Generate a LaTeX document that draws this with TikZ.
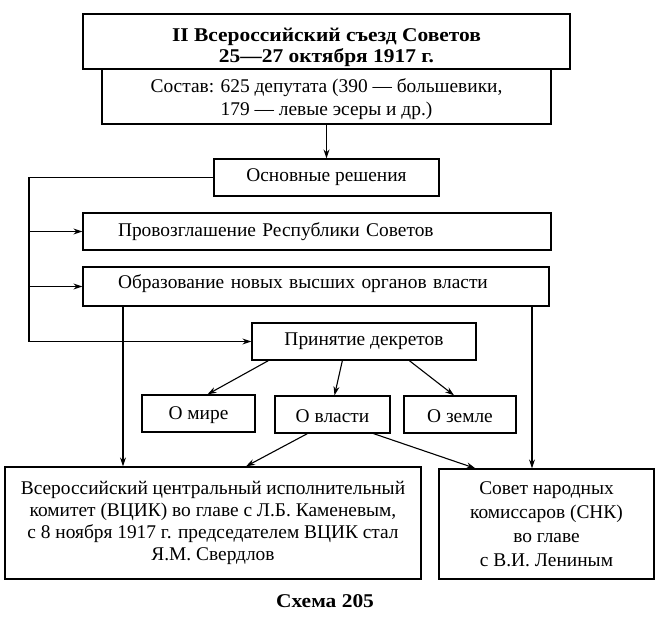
\documentclass[tikz,border=0pt]{standalone}
\usepackage{fontspec}
\setmainfont{Liberation Serif}
\newfontfamily\titlefont{Liberation Serif}[FakeStretch=1.1]
\usetikzlibrary{arrows.meta,calc}
\newcommand\fsz{\fontsize{19.4}{22.2}\selectfont}
\newcommand\tsz{\titlefont\fontsize{19.5}{20.5}\selectfont\bfseries}
\newcommand\shiftv[2]{\raisebox{#1}[\height][\depth]{\begin{tabular}{@{}c@{}}#2\end{tabular}}}
\newcommand\shifto[2]{\raisebox{#1}[\height][\depth]{#2}}
\begin{document}
\begin{tikzpicture}[x=1pt,y=-1pt,
  box/.style={draw, line width=1.3pt, fill=white, inner sep=0pt, font=\fsz, align=center},
  arr/.style={line width=1.1pt, -{Stealth[length=9pt,width=6pt]}},
  ln/.style={line width=1.1pt}]
\useasboundingbox (0,0) rectangle (669,635);
\node[box, minimum width=449pt, minimum height=55pt] (comp) at (326.5,96.5)
  {\shiftv{-3pt}{Состав: 625 депутата (390 — большевики,\\179 — левые эсеры и др.)}};
\node[box, minimum width=487pt, minimum height=55pt, font=\tsz] (title) at (326.5,41.5)
  {\shiftv{-6.5pt}{II Всероссийский съезд Советов\\[1pt]25—27 октября 1917 г.}};
\node[box, minimum width=225pt, minimum height=37pt] (osn) at (326.5,177.5) {Основные решения};
\node[box, minimum width=468pt, minimum height=37pt, text width=398pt, align=left] (prov) at (317,231.5)
  {Провозглашение Республики Советов};
\node[box, minimum width=466pt, minimum height=39pt, text width=396pt, align=left] (obr) at (316,286.5)
  {\shifto{3pt}{Образование новых высших органов власти}};
\node[box, minimum width=224pt, minimum height=37pt] (prin) at (364,341.5) {Принятие декретов};
\node[box, minimum width=113pt, minimum height=37pt] (mire) at (198.5,413.5) {\shifto{-2pt}{О мире}};
\node[box, minimum width=115pt, minimum height=37pt] (vlast) at (332.5,414.5) {\shifto{-2pt}{О власти}};
\node[box, minimum width=112pt, minimum height=37pt] (zem) at (460,414.5) {\shifto{-2pt}{О земле}};
\node[box, minimum width=416pt, minimum height=112pt] (vcik) at (213,523)
  {Всероссийский центральный исполнительный\\комитет (ВЦИК) во главе с Л.Б. Каменевым,\\с 8 ноября 1917 г. председателем ВЦИК стал\\Я.М. Свердлов};
\node[box, minimum width=215pt, minimum height=110pt, font=\fontsize{19.4}{24}\selectfont] (snk) at (546.5,524)
  {Совет народных\\комиссаров (СНК)\\во главе\\с В.И. Лениным};
\node[font=\tsz, inner sep=0pt] (cap) at (325,601) {Схема 205};
% connectors
\draw[arr] (comp.south) -- (osn.north);
\coordinate (tr) at (29,0);
\coordinate (xl) at (123,0);
\coordinate (xr) at (532,0);
\draw[ln] (osn.west) -| (tr |- prin.west);
\draw[arr] (tr |- prov.west) -- (prov.west);
\draw[arr] (tr |- obr.west) -- (obr.west);
\draw[arr] (tr |- prin.west) -- (prin.west);
\draw[arr] (xl |- obr.south) -- (xl |- vcik.north);
\draw[arr] (xr |- obr.south) -- (xr |- snk.north);
\draw[arr] ($(prin.south west)+(17,0)$) -- ($(mire.north)+(9,0)$);
\draw[arr] ($(prin.south west)+(91,0)$) -- ($(vlast.north)+(2,0)$);
\draw[arr] ($(prin.south west)+(158,0)$) -- ($(zem.north)+(-6,0)$);
\draw[arr] ($(vlast.south west)+(33,0)$) -- ($(vcik.north)+(33,0)$);
\draw[arr] ($(vlast.south east)+(-17,0)$) -- ($(snk.north west)+(37,0)$);
\end{tikzpicture}
\end{document}
